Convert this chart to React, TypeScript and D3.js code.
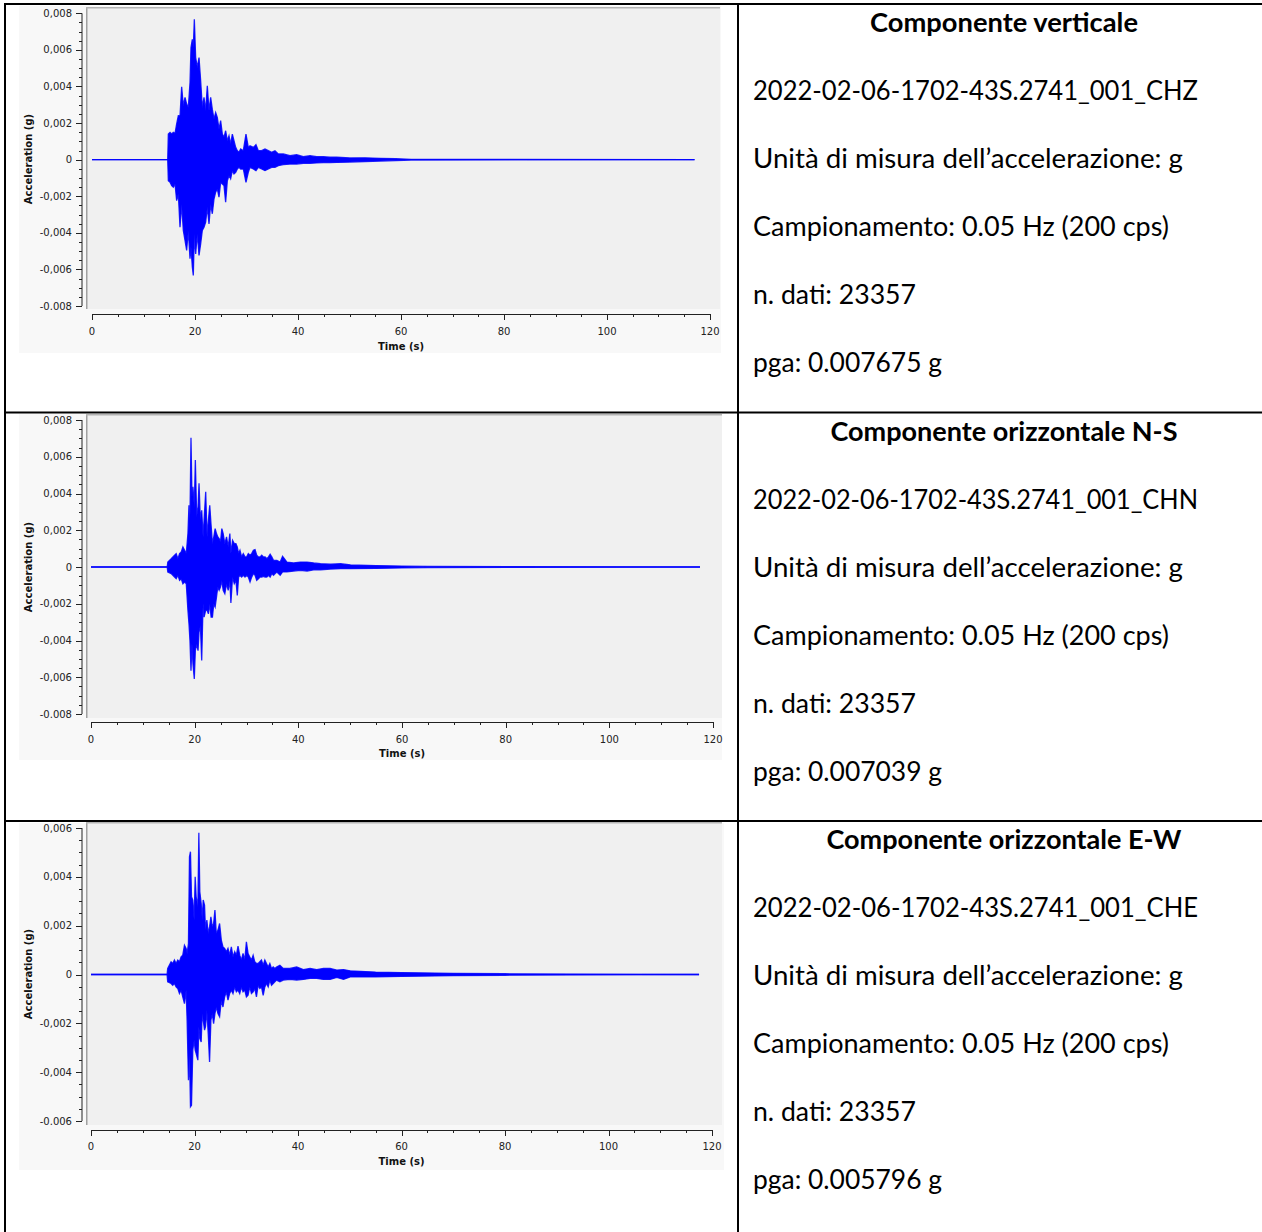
import React from "react";
import * as d3 from "d3";

// ---------- DATA (envelopes, values in milli-g) ----------
const chzTime = [0, 14.7, 14.82, 15.15, 15.47, 15.79, 16.12, 16.44, 16.76, 17.09, 17.41, 17.73, 18.06, 18.38, 18.7, 19.03, 19.22, 19.48, 19.67, 19.87, 20.13, 20.45, 20.78, 21.1, 21.42, 21.75, 22.07, 22.39, 22.72, 23.04, 23.36, 23.69, 24.01, 24.33, 24.66, 24.98, 25.31, 25.63, 25.95, 26.28, 26.6, 26.92, 27.25, 27.57, 27.9, 28.22, 28.54, 28.87, 29.38, 29.9, 30.35, 30.68, 31.33, 31.84, 32.3, 32.94, 33.59, 34.24, 34.88, 35.53, 36.18, 37.15, 38.44, 39.74, 41.03, 42.33, 43.62, 44.92, 46.21, 47.5, 50.09, 53, 56, 59, 62, 117];
const chzHi = [0, 0, 1.4, 1.49, 1.4, 1.49, 1.44, 1.95, 2.4, 2.4, 3.98, 2.95, 3.4, 3.04, 2.85, 4.22, 6.13, 6.58, 6.13, 7.67, 5.58, 5.04, 5.58, 4.31, 2.85, 3.4, 2.67, 4.04, 2.67, 3.4, 2.76, 2.22, 2.58, 2.31, 1.67, 2.13, 1.4, 1.22, 1.58, 1.04, 1.31, 0.85, 1.4, 1.04, 0.67, 0.49, 0.4, 0.58, 0.49, 1.4, 0.67, 0.76, 0.67, 0.82, 0.49, 0.49, 0.58, 0.49, 0.4, 0.49, 0.31, 0.31, 0.22, 0.27, 0.16, 0.22, 0.16, 0.16, 0.13, 0.13, 0.09, 0.1, 0.07, 0.05, 0.02, 0];
const chzLo = [0, 0, -1.15, -1.24, -1.42, -1.51, -1.33, -2.24, -1.87, -3.69, -2.42, -3.87, -4.42, -4.96, -3.87, -5.42, -4.78, -5.87, -6.33, -4.05, -5.15, -4.05, -5.24, -4.6, -3.87, -3.69, -3.42, -2.6, -3.51, -2.42, -2.96, -2.15, -1.78, -1.6, -2.05, -1.24, -1.33, -1.42, -2.33, -1.15, -0.87, -1.05, -0.6, -0.78, -0.69, -0.51, -0.42, -0.51, -0.51, -1.24, -0.69, -0.42, -0.51, -0.6, -0.42, -0.51, -0.6, -0.51, -0.42, -0.42, -0.33, -0.27, -0.24, -0.24, -0.2, -0.2, -0.18, -0.16, -0.16, -0.15, -0.13, -0.1, -0.08, -0.05, -0.02, 0];

const chnTime = [0, 14.7, 14.82, 15.47, 15.79, 16.12, 16.44, 16.76, 17.09, 17.41, 17.73, 18.06, 18.38, 18.7, 18.9, 19.09, 19.29, 19.48, 19.67, 19.93, 20.13, 20.39, 20.65, 20.84, 21.1, 21.36, 21.62, 21.81, 22.13, 22.39, 22.65, 22.91, 23.17, 23.43, 23.69, 23.95, 24.21, 24.46, 24.72, 24.98, 25.24, 25.5, 25.82, 26.15, 26.47, 26.79, 26.99, 27.31, 27.64, 27.96, 28.22, 28.48, 28.74, 29.06, 29.38, 29.71, 30.03, 30.35, 30.68, 31.0, 31.33, 31.65, 31.97, 32.3, 32.62, 32.94, 33.27, 33.59, 33.91, 34.24, 34.56, 34.88, 35.21, 35.53, 35.86, 36.5, 36.96, 37.8, 39.09, 40.39, 41.68, 42.97, 44.27, 46.21, 48.16, 50.09, 55, 60, 65, 117.5];
const chnHi = [0, 0, 0.27, 0.45, 0.55, 0.64, 0.73, 0.45, 0.73, 0.82, 1.09, 0.91, 0.73, 1.82, 3.36, 2.55, 7.04, 3.82, 4.36, 3.27, 5.82, 2.73, 3.27, 4.55, 2.55, 3.09, 1.64, 2.55, 4.09, 1.64, 2.55, 3.36, 2.27, 1.27, 1.64, 2.09, 1.82, 1.64, 1.55, 1.36, 2.09, 1.82, 1.27, 1.64, 1.09, 1.82, 0.73, 1.45, 1.27, 1.27, 1.09, 0.73, 0.91, 0.55, 0.73, 0.55, 0.55, 0.73, 0.64, 0.73, 0.91, 0.95, 0.64, 0.55, 0.55, 0.64, 0.55, 0.55, 0.45, 0.55, 0.69, 0.55, 0.36, 0.36, 0.36, 0.27, 0.58, 0.27, 0.22, 0.27, 0.27, 0.22, 0.18, 0.15, 0.18, 0.11, 0.08, 0.05, 0.03, 0];
const chnLo = [0, 0, -0.27, -0.36, -0.45, -0.55, -0.64, -0.45, -0.73, -0.64, -0.91, -0.82, -0.91, -2.36, -3.09, -4.0, -5.64, -4.18, -5.27, -6.09, -4.55, -4.18, -4.55, -3.55, -3.18, -5.09, -2.0, -2.73, -2.36, -2.36, -2.55, -2.0, -2.73, -2.73, -2.0, -2.18, -1.64, -1.09, -1.27, -1.09, -0.73, -1.27, -1.45, -0.91, -1.27, -0.73, -1.96, -0.55, -0.91, -0.73, -1.55, -0.55, -0.45, -0.55, -0.45, -0.55, -0.45, -0.55, -0.82, -0.55, -0.36, -0.45, -0.73, -0.64, -0.55, -0.55, -0.51, -0.55, -0.55, -0.45, -0.55, -0.36, -0.45, -0.36, -0.27, -0.45, -0.27, -0.27, -0.22, -0.18, -0.22, -0.15, -0.15, -0.11, -0.09, -0.09, -0.08, -0.05, -0.03, 0];

const cheTime = [0, 14.7, 14.82, 15.47, 15.79, 16.12, 16.44, 16.76, 17.09, 17.41, 17.73, 18.06, 18.38, 18.57, 18.83, 19.03, 19.22, 19.42, 19.67, 19.93, 20.13, 20.32, 20.65, 20.84, 21.03, 21.29, 21.49, 21.68, 21.94, 22.13, 22.39, 22.65, 22.91, 23.17, 23.43, 23.69, 23.95, 24.21, 24.53, 24.85, 25.18, 25.5, 25.82, 26.15, 26.47, 26.79, 27.12, 27.44, 27.77, 28.09, 28.41, 28.74, 29.06, 29.38, 29.71, 30.03, 30.35, 30.68, 31.0, 31.33, 31.65, 31.97, 32.3, 32.62, 32.94, 33.27, 33.59, 33.91, 34.24, 34.56, 34.88, 35.21, 35.53, 35.86, 36.5, 37.15, 38.44, 39.74, 41.03, 42.33, 43.62, 44.92, 46.21, 47.5, 48.8, 50.09, 55, 60, 70, 80, 117.5];
const cheHi = [0, 0, 0.25, 0.52, 0.45, 0.59, 0.45, 0.59, 0.52, 0.72, 0.79, 1.2, 1.07, 0.86, 1.27, 4.82, 5.03, 3.18, 3.05, 2.23, 4.0, 3.18, 2.77, 5.8, 3.39, 2.91, 2.23, 3.05, 2.84, 1.82, 2.23, 1.68, 1.95, 2.36, 1.95, 2.09, 2.64, 1.68, 1.82, 2.09, 1.41, 1.13, 1.07, 0.93, 1.07, 0.79, 1.13, 0.72, 0.93, 0.79, 1.16, 0.79, 0.59, 0.86, 0.59, 1.34, 0.86, 0.72, 0.59, 0.79, 0.52, 0.45, 0.45, 0.52, 0.59, 0.38, 0.59, 0.45, 0.31, 0.45, 0.25, 0.31, 0.25, 0.31, 0.38, 0.25, 0.25, 0.31, 0.2, 0.25, 0.2, 0.25, 0.25, 0.18, 0.2, 0.15, 0.1, 0.08, 0.05, 0.03, 0];
const cheLo = [0, 0, -0.3, -0.37, -0.44, -0.37, -0.51, -0.57, -0.78, -0.64, -0.92, -1.19, -0.64, -1.87, -4.33, -3.24, -5.42, -5.36, -3.1, -2.69, -3.1, -3.24, -3.51, -2.14, -2.62, -2.76, -1.6, -1.87, -2.28, -2.14, -1.46, -2.42, -3.58, -1.87, -1.6, -2.01, -1.6, -1.33, -1.6, -1.73, -1.05, -1.33, -0.92, -0.71, -1.05, -0.78, -0.64, -0.78, -0.51, -0.71, -0.64, -0.78, -0.51, -0.71, -0.64, -0.92, -0.85, -0.51, -0.78, -0.71, -0.57, -0.92, -0.44, -0.57, -0.51, -0.85, -0.51, -0.37, -0.51, -0.23, -0.44, -0.37, -0.3, -0.23, -0.3, -0.23, -0.2, -0.23, -0.2, -0.16, -0.16, -0.2, -0.2, -0.12, -0.2, -0.1, -0.1, -0.08, -0.05, -0.03, 0];

const xTickValues = [0, 20, 40, 60, 80, 100, 120];
const xTickLabels = ["0", "20", "40", "60", "80", "100", "120"];
const yTickValues8 = [0.008, 0.006, 0.004, 0.002, 0, -0.002, -0.004, -0.006, -0.008];
const yTickLabels8 = ["0,008", "0,006", "0,004", "0,002", "0", "-0,002", "-0,004", "-0,006", "-0.008"];
const yTickValues6 = [0.006, 0.004, 0.002, 0, -0.002, -0.004, -0.006];
const yTickLabels6 = ["0,006", "0,004", "0,002", "0", "-0,002", "-0,004", "-0.006"];

const titles = ["Componente verticale", "Componente orizzontale N-S", "Componente orizzontale E-W"];
const fileNames = ["2022-02-06-1702-43S.2741_001_CHZ", "2022-02-06-1702-43S.2741_001_CHN", "2022-02-06-1702-43S.2741_001_CHE"];
const unitLine = "Unità di misura dell’accelerazione: g";
const samplingLine = "Campionamento: 0.05 Hz (200 cps)";
const nDatiLine = "n. dati: 23357";
const pgaLines = ["pga: 0.007675 g", "pga: 0.007039 g", "pga: 0.005796 g"];

// ---------- LAYOUT ----------
const W = 1262;
const H = 1232;
const BLUE = "#0000ff";
const TICK_FONT = "'DejaVu Sans', Verdana, sans-serif";
const DOC_FONT = "Lato, 'Open Sans', sans-serif";

// text widths measured on the reference (px)
const titleWidths = [268, 347, 355];
const fileWidth = 445;
const unitWidth = 430;
const samplingWidth = 416;
const nDatiWidth = 163;
const pgaWidth = 189;

type ChartCfg = {
  panel: [number, number, number, number];
  plot: [number, number, number, number];
  yAxisX: number;
  yRange: [number, number];
  yMax: number;
  xRange: [number, number];
  xAxisY: number;
  tickLabelY: number;
  timeLabelY: number;
  yTitleY: number;
};

const charts: ChartCfg[] = [
  { panel: [19, 6, 702, 347], plot: [86, 7, 634, 302], yAxisX: 82, yRange: [306, 13.3], yMax: 0.008, xRange: [92, 710], xAxisY: 314, tickLabelY: 335, timeLabelY: 350, yTitleY: 159 },
  { panel: [19, 414, 703, 346], plot: [86, 414, 636, 304], yAxisX: 82, yRange: [714, 420], yMax: 0.008, xRange: [91, 713], xAxisY: 722, tickLabelY: 743, timeLabelY: 757, yTitleY: 567 },
  { panel: [19, 823, 705, 347], plot: [86, 822, 636, 303], yAxisX: 82, yRange: [1121, 828], yMax: 0.006, xRange: [91, 712], xAxisY: 1130, tickLabelY: 1150, timeLabelY: 1165, yTitleY: 974 },
];

function Seismo({ cfg, time, hi, lo, yTicks, yLabels }: { cfg: ChartCfg; time: number[]; hi: number[]; lo: number[]; yTicks: number[]; yLabels: string[] }) {
  const x = d3.scaleLinear().domain([0, 120]).range(cfg.xRange);
  const y = d3.scaleLinear().domain([-cfg.yMax, cfg.yMax]).range(cfg.yRange);
  const pts = time.map((t, i) => ({ t, hi: hi[i] / 1000, lo: lo[i] / 1000 }));
  const area = d3.area<any>().x((d) => x(d.t)).y0((d) => y(d.lo)).y1((d) => y(d.hi)).curve(d3.curveLinear);
  const lineHi = d3.line<any>().x((d) => x(d.t)).y((d) => y(d.hi));
  const lineLo = d3.line<any>().x((d) => x(d.t)).y((d) => y(d.lo));
  const minorY = d3.range(-cfg.yMax, cfg.yMax + 1e-9, 0.0005);
  const minorX = d3.range(0, 120.001, 5);
  const [px, py, pw, ph] = cfg.plot;
  const [bx, by, bw, bh] = cfg.panel;
  const midX = x(60);
  return (
    <g>
      <rect x={bx} y={by} width={bw} height={bh} fill="#f8f8f8" />
      <rect x={px} y={py} width={pw} height={ph} fill="#f0f0f0" />
      <line x1={px + 0.75} x2={px + 0.75} y1={py} y2={py + ph} stroke="#a0a0a0" strokeWidth={1.5} />
      <line x1={px} x2={px + pw} y1={py + 0.75} y2={py + 0.75} stroke="#b4b4b4" strokeWidth={1.5} />
      {/* signal */}
      <path d={area(pts) || ""} fill={BLUE} stroke="none" />
      <path d={lineHi(pts) || ""} fill="none" stroke={BLUE} strokeWidth={1.3} opacity={0.85} />
      <path d={lineLo(pts) || ""} fill="none" stroke={BLUE} strokeWidth={1.3} opacity={0.85} />
      {/* y axis */}
      <line x1={cfg.yAxisX} x2={cfg.yAxisX} y1={y(cfg.yMax)} y2={y(-cfg.yMax)} stroke="#222" strokeWidth={1} />
      {minorY.map((v, i) => (
        <line key={"my" + i} x1={cfg.yAxisX - 3} x2={cfg.yAxisX} y1={Math.round(y(v)) + 0.5} y2={Math.round(y(v)) + 0.5} stroke="#222" strokeWidth={1} />
      ))}
      {yTicks.map((v, i) => (
        <g key={"yt" + i}>
          <line x1={cfg.yAxisX - 6} x2={cfg.yAxisX} y1={Math.round(y(v)) + 0.5} y2={Math.round(y(v)) + 0.5} stroke="#222" strokeWidth={1} />
          <text x={cfg.yAxisX - 10} y={y(v)} dy="0.35em" textAnchor="end" fontFamily={TICK_FONT} fontSize={10} fill="#222">
            {yLabels[i]}
          </text>
        </g>
      ))}
      <text transform={`translate(28,${cfg.yTitleY}) rotate(-90)`} textAnchor="middle" dy="0.35em" fontFamily={TICK_FONT} fontWeight="bold" fontSize={10} fill="#111">
        Acceleration (g)
      </text>
      {/* x axis */}
      <line x1={x(0)} x2={x(120)} y1={cfg.xAxisY + 0.5} y2={cfg.xAxisY + 0.5} stroke="#222" strokeWidth={1} />
      {minorX.map((v, i) => (
        <line key={"mx" + i} x1={Math.round(x(v)) + 0.5} x2={Math.round(x(v)) + 0.5} y1={cfg.xAxisY} y2={cfg.xAxisY + 3} stroke="#222" strokeWidth={1} />
      ))}
      {xTickValues.map((v, i) => (
        <g key={"xt" + i}>
          <line x1={Math.round(x(v)) + 0.5} x2={Math.round(x(v)) + 0.5} y1={cfg.xAxisY} y2={cfg.xAxisY + 6} stroke="#222" strokeWidth={1} />
          <text x={x(v)} y={cfg.tickLabelY} textAnchor="middle" fontFamily={TICK_FONT} fontSize={10} fill="#222">
            {xTickLabels[i]}
          </text>
        </g>
      ))}
      <text x={midX} y={cfg.timeLabelY} textAnchor="middle" fontFamily={TICK_FONT} fontWeight="bold" fontSize={10} fill="#111">
        Time (s)
      </text>
    </g>
  );
}

export default function App() {
  const rowTops = [4, 412.5, 821];
  const textOffsets = [0, 409, 817];
  const baselines = [32, 100, 168, 236, 304, 372];
  const series = [
    { time: chzTime, hi: chzHi, lo: chzLo, yTicks: yTickValues8, yLabels: yTickLabels8 },
    { time: chnTime, hi: chnHi, lo: chnLo, yTicks: yTickValues8, yLabels: yTickLabels8 },
    { time: cheTime, hi: cheHi, lo: cheLo, yTicks: yTickValues6, yLabels: yTickLabels6 },
  ];
  return (
    <svg width={W} height={H} style={{ position: "absolute", left: 0, top: 0, background: "#fff" }}>
      <rect x={0} y={0} width={W} height={H} fill="#fff" />
      {series.map((s, i) => (
        <Seismo key={i} cfg={charts[i]} time={s.time} hi={s.hi} lo={s.lo} yTicks={s.yTicks} yLabels={s.yLabels} />
      ))}
      {/* table grid */}
      {rowTops.map((yy, i) => (
        <line key={"h" + i} x1={4} x2={W} y1={yy} y2={yy} stroke="#000" strokeWidth={2} />
      ))}
      <line x1={5} x2={5} y1={3} y2={H} stroke="#000" strokeWidth={2} />
      <line x1={738} x2={738} y1={3} y2={H} stroke="#000" strokeWidth={2} />
      {/* text column */}
      {titles.map((t, i) => {
        const o = textOffsets[i];
        return (
          <g key={"txt" + i} fontFamily={DOC_FONT} fontSize={26} fill="#000">
            <text x={1004} y={baselines[0] + o} textAnchor="middle" fontWeight="bold" fontSize={27} textLength={titleWidths[i]} lengthAdjust="spacingAndGlyphs">{t}</text>
            <text x={753} y={baselines[1] + o} textLength={fileWidth} lengthAdjust="spacingAndGlyphs">{fileNames[i]}</text>
            <text x={753} y={baselines[2] + o} textLength={unitWidth} lengthAdjust="spacingAndGlyphs">{unitLine}</text>
            <text x={753} y={baselines[3] + o} textLength={samplingWidth} lengthAdjust="spacingAndGlyphs">{samplingLine}</text>
            <text x={753} y={baselines[4] + o} textLength={nDatiWidth} lengthAdjust="spacingAndGlyphs">{nDatiLine}</text>
            <text x={753} y={baselines[5] + o} textLength={pgaWidth} lengthAdjust="spacingAndGlyphs">{pgaLines[i]}</text>
          </g>
        );
      })}
    </svg>
  );
}
